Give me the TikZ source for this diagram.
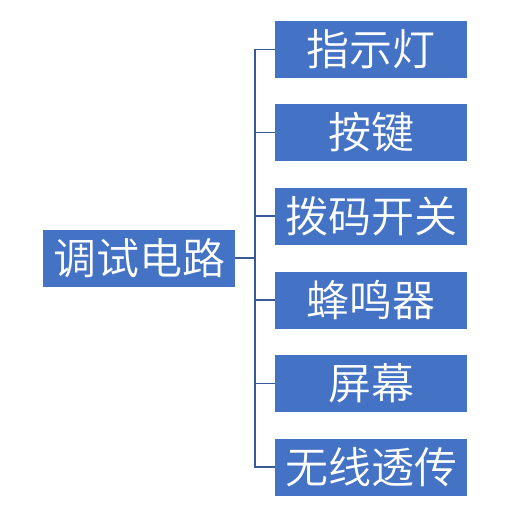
\documentclass[tikz,border=0pt]{standalone}
\usepackage{fontspec}
\newfontfamily\cjk{Noto Sans CJK SC DemiLight}
\definecolor{boxblue}{HTML}{4472C4}
\definecolor{linkblue}{HTML}{3A5A96}
\begin{document}
\begin{tikzpicture}[x=1pt,y=1pt,
  itembox/.style={fill=boxblue, draw=none, text=white, minimum width=192pt, minimum height=57pt, inner sep=0pt, font=\cjk\fontsize{43}{43}\selectfont},
  rootbox/.style={itembox},
  link/.style={draw=linkblue, line width=1.5pt}]
\useasboundingbox (0,0) rectangle (526,507);
\node[rootbox] (root) at (139,249) {调试电路};
\node[itembox] (a) at (371,457.5) {指示灯};
\node[itembox] (b) at (371,374.5) {按键};
\node[itembox] (c) at (371,291) {拨码开关};
\node[itembox] (d) at (371,207) {蜂鸣器};
\node[itembox] (e) at (371,123.5) {屏幕};
\node[itembox] (f) at (371,40) {无线透传};
\coordinate (j) at (255,249);
\draw[link] (root.east) -- (j);
\draw[link] (a.west) -- ++(-20,0) coordinate (top) |- (f.west);
\foreach \n in {b,c,d,e} \draw[link] (\n.west) -- ++(-20,0);
\end{tikzpicture}
\end{document}
